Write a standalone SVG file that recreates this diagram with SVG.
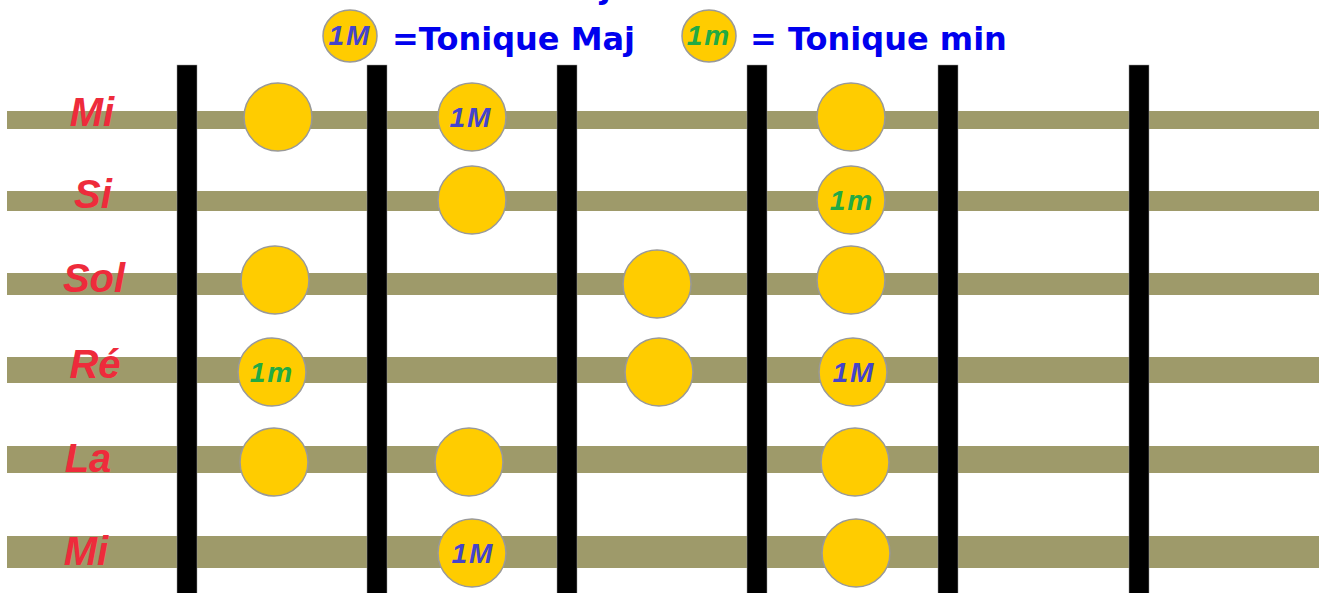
<svg xmlns="http://www.w3.org/2000/svg" width="1322" height="593" viewBox="0 0 1322 593">
<style>
.str{fill:#9E9A6A}
.fret{fill:#000;stroke:#999;stroke-width:0.5}
.dot{fill:#FFCC00;stroke:#999;stroke-width:1.5}
.lbl{font-family:"Liberation Sans",Arial,sans-serif;font-style:italic;font-weight:bold;font-size:40px;fill:#EE2B3B;text-anchor:middle}
.maj{font-family:"Liberation Sans",Arial,sans-serif;font-style:italic;font-weight:bold;font-size:28px;letter-spacing:2px;fill:#4444CC;text-anchor:middle}
.min{font-family:"Liberation Sans",Arial,sans-serif;font-style:italic;font-weight:bold;font-size:28px;letter-spacing:2px;fill:#22AA44;text-anchor:middle}
.leg{font-family:"DejaVu Sans",Verdana,sans-serif;font-weight:bold;font-size:32px;fill:#0000EE}
</style>
<rect width="1322" height="593" fill="#fff"/>
<g id="title">
<text class="leg" x="600" y="-2">j</text>
</g>
<g id="legend">
<ellipse class="dot" cx="350" cy="36" rx="27" ry="26"/>
<text class="maj" x="350" y="45" font-size="25">1M</text>
<text class="leg" x="392" y="50">=Tonique Maj</text>
<ellipse class="dot" cx="709" cy="36" rx="27" ry="26"/>
<text class="min" x="709" y="45" font-size="25">1m</text>
<text class="leg" x="750" y="50">= Tonique min</text>
</g>
<g id="strings">
<rect class="str" x="7" y="111" width="1312" height="18"/>
<rect class="str" x="7" y="191" width="1312" height="20"/>
<rect class="str" x="7" y="273" width="1312" height="22"/>
<rect class="str" x="7" y="357" width="1312" height="26"/>
<rect class="str" x="7" y="446" width="1312" height="27"/>
<rect class="str" x="7" y="536" width="1312" height="32"/>
</g>
<g id="frets">
<rect class="fret" x="177" y="65" width="20" height="530"/>
<rect class="fret" x="367" y="65" width="20" height="530"/>
<rect class="fret" x="557" y="65" width="20" height="530"/>
<rect class="fret" x="747" y="65" width="20" height="530"/>
<rect class="fret" x="938" y="65" width="20" height="530"/>
<rect class="fret" x="1129" y="65" width="20" height="530"/>
</g>
<g id="string-labels">
<text class="lbl" x="92" y="126">Mi</text>
<text class="lbl" x="93" y="208">Si</text>
<text class="lbl" x="94" y="292">Sol</text>
<text class="lbl" x="95" y="378">Ré</text>
<text class="lbl" x="88" y="472">La</text>
<text class="lbl" x="86" y="565">Mi</text>
</g>
<g id="notes">
<g id="n1"><circle class="dot" cx="278" cy="117" r="34"/></g>
<g id="n2"><circle class="dot" cx="472" cy="117" r="34"/><text class="maj" x="471" y="127">1M</text></g>
<g id="n3"><circle class="dot" cx="851" cy="117" r="34"/></g>
<g id="n4"><circle class="dot" cx="472" cy="200" r="34"/></g>
<g id="n5"><circle class="dot" cx="851" cy="200" r="34"/><text class="min" x="852" y="210">1m</text></g>
<g id="n6"><circle class="dot" cx="275" cy="280" r="34"/></g>
<g id="n7"><circle class="dot" cx="657" cy="284" r="34"/></g>
<g id="n8"><circle class="dot" cx="851" cy="280" r="34"/></g>
<g id="n9"><circle class="dot" cx="272" cy="372" r="34"/><text class="min" x="272" y="382">1m</text></g>
<g id="n10"><circle class="dot" cx="659" cy="372" r="34"/></g>
<g id="n11"><circle class="dot" cx="853" cy="372" r="34"/><text class="maj" x="854" y="382">1M</text></g>
<g id="n12"><circle class="dot" cx="274" cy="462" r="34"/></g>
<g id="n13"><circle class="dot" cx="469" cy="462" r="34"/></g>
<g id="n14"><circle class="dot" cx="855" cy="462" r="34"/></g>
<g id="n15"><circle class="dot" cx="472" cy="553" r="34"/><text class="maj" x="473" y="563">1M</text></g>
<g id="n16"><circle class="dot" cx="856" cy="553" r="34"/></g>
</g>
</svg>
